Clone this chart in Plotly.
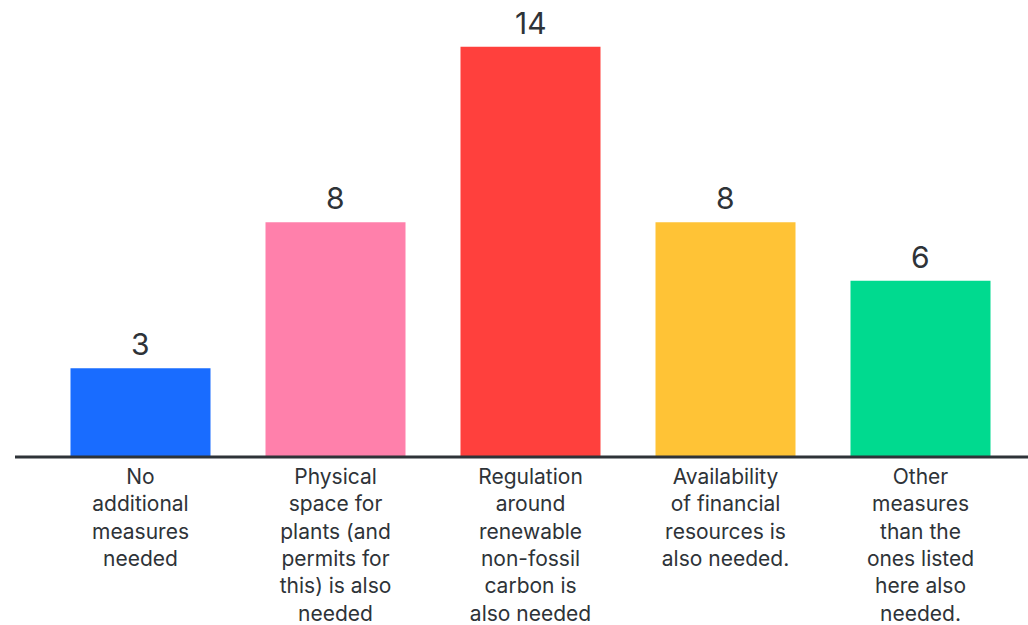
import plotly.graph_objects as go

categories = [
    "No<br>additional<br>measures<br>needed",
    "Physical<br>space for<br>plants (and<br>permits for<br>this) is also<br>needed",
    "Regulation<br>around<br>renewable<br>non-fossil<br>carbon is<br>also needed",
    "Availability<br>of financial<br>resources is<br>also needed.",
    "Other<br>measures<br>than the<br>ones listed<br>here also<br>needed.",
]
values = [3, 8, 14, 8, 6]
colors = ["#196CFF", "#FF80AB", "#FF403D", "#FFC336", "#00DA8F"]

TEXT = "#2e3338"
FONT = "Inter, Lato, sans-serif"

fig = go.Figure(
    go.Bar(
        x=list(range(len(values))),
        y=values,
        marker=dict(color=colors, line=dict(width=0)),
        hoverinfo="skip",
    )
)

for i, v in enumerate(values):
    fig.add_annotation(
        x=i, y=v, text=str(v), showarrow=False, yanchor="bottom", yshift=4,
        font=dict(size=30, color=TEXT, family=FONT),
    )

fig.add_shape(
    type="line", xref="paper", yref="paper", x0=-28 / 975, x1=1 + 10 / 975, y0=-1 / 453, y1=-1 / 453,
    line=dict(color=TEXT, width=3),
)

fig.update_layout(
    width=1028, height=625,
    margin=dict(l=43, r=10, t=3, b=169),
    paper_bgcolor="white", plot_bgcolor="white",
    bargap=0.282,
    showlegend=False,
    font=dict(family=FONT, color=TEXT),
    xaxis=dict(
        tickmode="array", tickvals=list(range(len(values))), ticktext=categories,
        range=[-0.5, 4.5], showgrid=False, zeroline=False, showline=False,
        ticks="", ticklabelstandoff=6, automargin=False,
        tickfont=dict(size=21, color=TEXT, family=FONT),
    ),
    yaxis=dict(range=[0, 15.5], visible=False, automargin=False),
)

fig.write_html("out.html")
